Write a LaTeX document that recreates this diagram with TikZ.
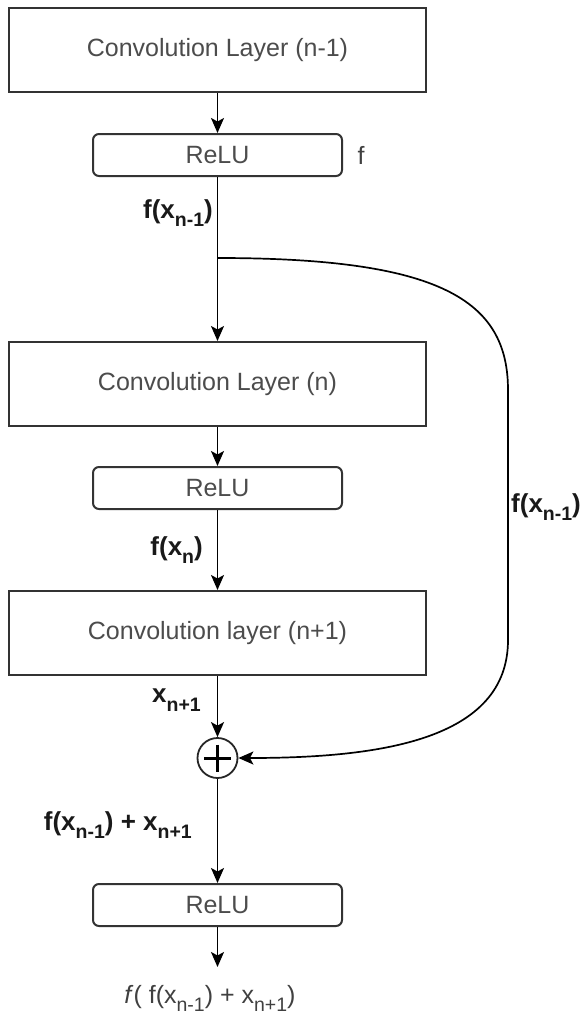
\documentclass[tikz,border=0pt]{standalone}
\usepackage{fontspec}
\setmainfont{Liberation Sans}
\usetikzlibrary{arrows.meta}
\newcommand{\sbs}[1]{\raisebox{-0.32em}{\fontsize{19.5}{19.5}\selectfont #1}}
\begin{document}
\begin{tikzpicture}[x=1pt,y=-1pt,
 layer/.style={draw=black!80, line width=2pt, minimum width=417pt, minimum height=84pt, inner sep=0pt, font=\fontsize{25}{27}\selectfont, text=black!70},
 relu/.style={draw=black!80, line width=2pt, rounded corners=6pt, minimum width=249pt, minimum height=42pt, inner sep=0pt, font=\fontsize{25}{27}\selectfont, text=black!70},
 lab/.style={font=\fontsize{26}{28}\selectfont\bfseries, inner sep=0pt, text=black!90},
 thin/.style={font=\fontsize{25}{27}\selectfont, inner sep=0pt, text=black!75},
 arr/.style={-{Stealth[length=15pt,width=13pt,inset=3.5pt]}, line width=1.7pt, draw=black}]
\useasboundingbox (0,0) rectangle (587,1017);
\node[layer] (c1) at (217.5,50) {Convolution Layer (n-1)};
\node[relu] (r1) at (217.5,155) {ReLU};
\node[layer] (c2) at (217.5,384) {Convolution Layer (n)};
\node[relu] (r2) at (217.5,488) {ReLU};
\node[layer] (c3) at (217.5,633) {Convolution layer (n+1)};
\node[draw=black!85, circle, minimum size=40pt, inner sep=0pt, line width=1.8pt] (p) at (217.5,758) {};
\draw[line width=3pt] (p.center) ++(-13.5,0) -- ++(27,0);
\draw[line width=3pt] (p.center) ++(0,-13.5) -- ++(0,27);
\node[relu] (r3) at (217.5,905) {ReLU};
\coordinate (o) at (217.5,967);
\coordinate (s) at (217.5,258);
\node[thin] (out) at (210,998) {\textit{f}( f(x\sbs{n-1}) + x\sbs{n+1})};
\draw[arr] (c1) -- (r1);
\draw[arr] (r1) -- (c2);
\draw[arr] (c2) -- (r2);
\draw[arr] (r2) -- (c3);
\draw[arr] (c3) -- (p);
\draw[arr] (p) -- (r3);
\draw[arr] (r3) -- (o);
\draw[arr] (s) .. controls (440,258) and (508,300) .. (508,390) -- (508,640) .. controls (508,740) and (380,758) .. (p.east);
\node[thin] (fl) at (361,155) {f};
\node[lab, anchor=east] (l1) at (213,213) {f(x\sbs{n-1})};
\node[lab, anchor=west] (l2) at (511,507) {f(x\sbs{n-1})};
\node[lab, anchor=east] (l3) at (203,550) {f(x\sbs{n})};
\node[lab, anchor=east] (l4) at (201,700) {x\sbs{n+1}};
\node[lab, anchor=east] (l5) at (192,825) {f(x\sbs{n-1}) + x\sbs{n+1}};
\end{tikzpicture}
\end{document}
